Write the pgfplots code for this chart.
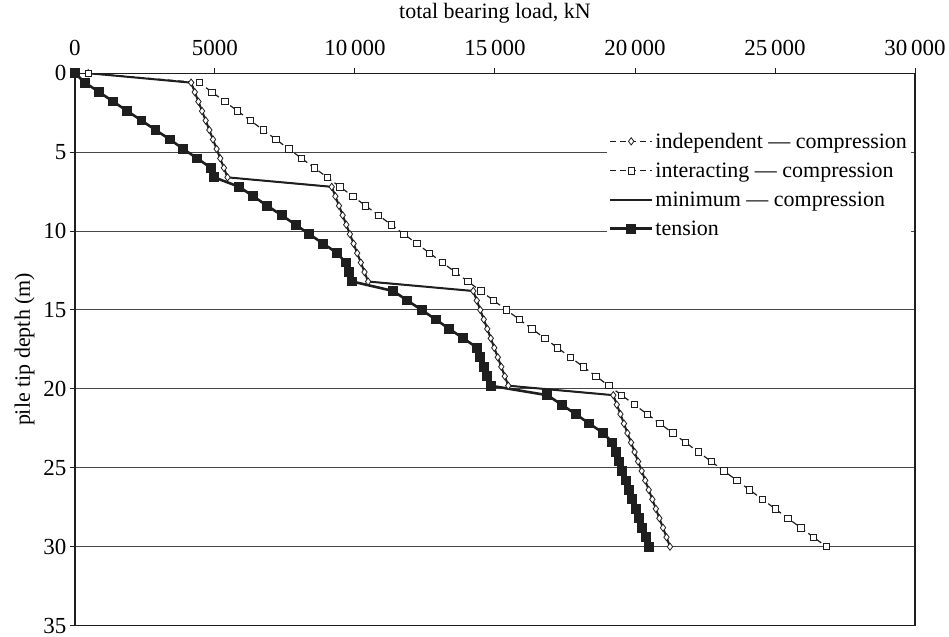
\documentclass[border=0pt]{standalone}
\usepackage{fontspec}
\setmainfont{Liberation Serif}
\usepackage{pgfplots}
\usepackage{pgfplotstable}
\pgfplotsset{compat=1.18}
\definecolor{ink}{RGB}{30,30,30}
\definecolor{gridgray}{RGB}{70,70,70}

% depth (m), independent, interacting, minimum, tension (kN)
\pgfplotstableread{
depth indep inter minc tens
0.0   476   476   476   0
0.6   4150  4440  4150  357
1.2   4280  4897  4280  869
1.8   4410  5354  4410  1369
2.4   4540  5811  4540  1869
3.0   4670  6268  4670  2381
3.6   4800  6725  4800  2881
4.2   4930  7182  4930  3393
4.8   5060  7639  5060  3869
5.4   5190  8096  5190  4369
6.0   5320  8553  5320  4857
6.6   5450  9010  5450  4976
7.2   9170  9467  9170  5869
7.8   9300  9924  9300  6369
8.4   9430  10381 9430  6869
9.0   9560  10838 9560  7381
9.6   9690  11295 9690  7881
10.2  9820  11752 9820  8369
10.8  9950  12209 9950  8869
11.4  10080 12666 10080 9369
12.0  10210 13123 10210 9667
12.6  10340 13580 10340 9774
13.2  10470 14037 10470 9905
13.8  14225 14494 14225 11369
14.4  14350 14951 14350 11869
15.0  14475 15408 14475 12381
15.6  14600 15865 14600 12881
16.2  14725 16322 14725 13369
16.8  14850 16779 14850 13869
17.4  14975 17236 14975 14369
18.0  15100 17693 15100 14464
18.6  15225 18150 15225 14607
19.2  15350 18607 15350 14702
19.8  15475 19064 15475 14845
20.4  19225 19521 19225 16869
21.0  19350 19978 19350 17381
21.6  19480 20435 19480 17881
22.2  19605 20892 19605 18369
22.8  19730 21349 19730 18869
23.4  19860 21806 19860 19190
24.0  19985 22263 19985 19310
24.6  20110 22720 20110 19429
25.2  20240 23177 20240 19548
25.8  20365 23634 20365 19667
26.4  20490 24091 20490 19786
27.0  20620 24548 20620 19905
27.6  20745 25005 20745 20024
28.2  20870 25462 20870 20143
28.8  21000 25919 21000 20262
29.4  21125 26376 21125 20381
30.0  21250 26833 21250 20512
}\loadtable

\begin{document}
\begin{tikzpicture}
\begin{axis}[
  width=841pt, height=553pt, scale only axis,
  xmin=0, xmax=30000, ymin=0, ymax=35,
  y dir=reverse,
  xtick={0,5000,...,30000}, ytick={0,5,...,35},
  scaled x ticks=false,
  xtick pos=top, xticklabel pos=top,
  ytick pos=left,
  tick align=outside, major tick length=5pt,
  axis line style={ink, line width=1.3pt},
  every tick/.style={ink, line width=1pt},
  ymajorgrids, grid style={gridgray, line width=0.9pt},
  /pgf/number format/.cd, 1000 sep={\,}, min exponent for 1000 sep=4,
  assume math mode=true, /pgfplots/.cd,
  tick label style={font=\fontsize{23}{27}\selectfont},
  xticklabel style={yshift=9pt},
  label style={font=\fontsize{22}{26}\selectfont},
  xlabel={total bearing load, kN},
  ylabel={pile tip depth (m)},
  xlabel style={yshift=10pt},
  ylabel style={yshift=2pt},
  legend style={at={(0.633,0.903)}, anchor=north west, draw=none, fill=white,
    font=\fontsize{22}{26}\selectfont, row sep=9pt,
    inner xsep=2pt, inner ysep=4pt, cells={anchor=west}},
  legend image code/.code={\draw[mark repeat=2,mark phase=2,#1]
    plot coordinates {(0pt,0pt) (21pt,0pt) (42pt,0pt)};},
]
\addplot[ink, line width=1.2pt, dash pattern=on 6pt off 4pt,
  mark=diamond*, mark size=3.6pt,
  mark options={solid, fill=white, draw=ink, line width=0.8pt}]
  table[x=indep, y=depth] {\loadtable};
\addlegendentry{independent --- compression}
\addplot[ink, line width=1.2pt, dash pattern=on 6pt off 4pt,
  mark=square*, mark size=3.2pt,
  mark options={solid, fill=white, draw=ink, line width=0.8pt}]
  table[x=inter, y=depth] {\loadtable};
\addlegendentry{interacting --- compression}
\addplot[ink, line width=2pt, no marks]
  table[x=minc, y=depth] {\loadtable};
\addlegendentry{minimum --- compression}
\addplot[ink, line width=2.6pt, mark=square*, mark size=3.6pt,
  mark options={fill=ink, draw=ink}]
  table[x=tens, y=depth] {\loadtable};
\addlegendentry{tension}
\end{axis}
\path (current axis.south west) ++(-75pt,0pt);
\end{tikzpicture}
\end{document}
